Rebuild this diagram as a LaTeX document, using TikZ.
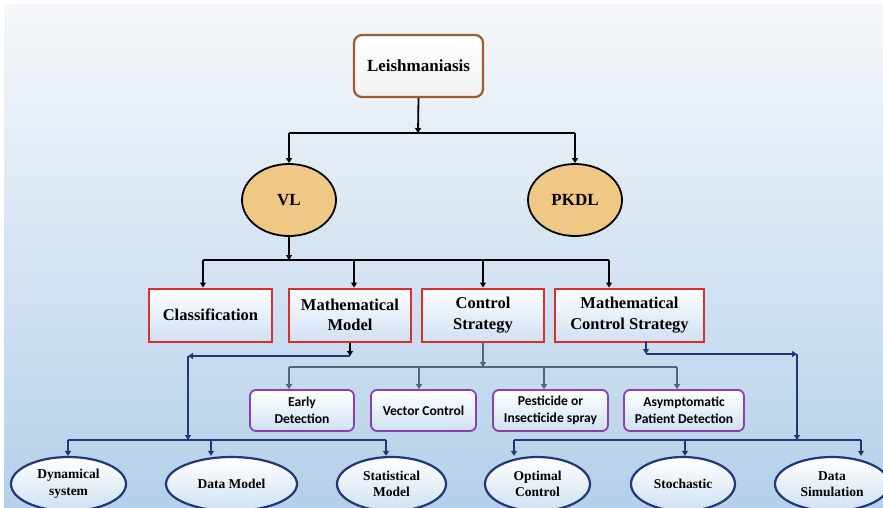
\documentclass[tikz,border=0pt]{standalone}
\usepackage{fontspec}
\setmainfont{Liberation Serif}
\newfontfamily\calib{Carlito}
\usetikzlibrary{shapes.geometric,arrows.meta}
\definecolor{bgtop}{HTML}{F6F8FB}
\definecolor{bgbot}{HTML}{B4D0E9}
\definecolor{brownb}{HTML}{A35A2C}
\definecolor{redb}{HTML}{D8302C}
\definecolor{purpb}{HTML}{8A40B0}
\definecolor{navy}{HTML}{22377A}
\definecolor{tanfill}{HTML}{EFC885}
\definecolor{greyb}{HTML}{56647A}
\definecolor{boxbot}{HTML}{CFE1F2}
\begin{document}
\begin{tikzpicture}[x=1pt,y=-1pt,
 topbox/.style={draw=brownb, line width=2.2pt, rounded corners=8pt, top color=white, bottom color=gray!10, minimum width=129pt, minimum height=62pt, inner sep=0pt, font=\fontsize{17}{20}\selectfont\bfseries},
 oval/.style={ellipse, draw=black, line width=1.8pt, fill=tanfill, minimum width=94pt, minimum height=72pt, inner sep=0pt, font=\fontsize{17}{20}\selectfont\bfseries},
 redbox/.style={draw=redb, line width=2pt, top color=white, bottom color=boxbot, minimum height=53pt, align=center, inner sep=0pt, font=\fontsize{16.5}{20.5}\selectfont\bfseries},
 purpbox/.style={draw=purpb, line width=1.8pt, rounded corners=6pt, top color=white, bottom color=boxbot, minimum height=41pt, align=center, inner sep=0pt, font=\calib\fontsize{13.6}{17}\selectfont\bfseries},
 bell/.style={ellipse, draw=navy, line width=2.2pt, top color=white, bottom color=boxbot, minimum height=54pt, align=center, inner sep=0pt, font=\fontsize{13.5}{16.5}\selectfont\bfseries},
 blk/.style={line width=1.8pt, black, -{Triangle[width=6pt,length=5pt]}},
 blkln/.style={line width=1.8pt, black},
 bluar/.style={line width=2.2pt, navy, -{Triangle[width=6pt,length=5pt]}},
 bluln/.style={line width=2.2pt, navy},
 greyar/.style={line width=1.8pt, greyb, -{Triangle[width=6pt,length=5pt]}},
 greyln/.style={line width=1.8pt, greyb}
]
\useasboundingbox (0,0) rectangle (883,507);
\fill[white] (0,0) rectangle (883,507);
\shade[top color=bgtop, bottom color=bgbot] (4,4) rectangle (883,507);

% nodes
\node[topbox] (L) at (418.5,66) {Leishmaniasis};
\node[oval] (VL) at (289,200) {VL};
\node[oval] (PK) at (575,200) {PKDL};

\node[redbox, minimum width=123pt] (Cl) at (210.5,315) {Classification};
\node[redbox, minimum width=122pt] (MM) at (350,315) {Mathematical\\Model};
\node[redbox, minimum width=122pt] (CS) at (483,315) {Control\\Strategy};
\node[redbox, minimum width=149pt] (MC) at (629.5,315) {Mathematical\\Control Strategy};

\node[purpbox, minimum width=104pt] (ED) at (302,410.5) {Early\\Detection};
\node[purpbox, minimum width=105pt] (VC) at (423.5,410.5) {Vector Control};
\node[purpbox, minimum width=115pt] (PI) at (550.5,410.5) {Pesticide or\\Insecticide spray};
\node[purpbox, minimum width=120pt] (AP) at (684,410.5) {Asymptomatic\\Patient Detection};

\node[bell, minimum width=115pt] (DS) at (68.5,484) {Dynamical\\system};
\node[bell, minimum width=131pt] (DM) at (231.5,484) {Data Model};
\node[bell, minimum width=109pt] (SM) at (391.5,484) {Statistical\\Model};
\node[bell, minimum width=105pt] (OC) at (537.5,484) {Optimal\\Control};
\node[bell, minimum width=104pt] (ST) at (683,484) {Stochastic};
\node[bell, minimum width=114pt] (DSim) at (832,484) {Data\\Simulation};

% top level connectors
\coordinate (j1) at (418,133);
\draw[blk] (L.south) -- (j1);
\draw[blkln] (VL.north |- j1) -- (PK.north |- j1);
\draw[blk] (VL.north |- j1) -- (VL.north);
\draw[blk] (PK.north |- j1) -- (PK.north);

% VL to red boxes
\coordinate (j2) at (289,260);
\coordinate (a1) at (203,260);
\coordinate (a2) at (354,260);
\coordinate (a3) at (483,260);
\coordinate (a4) at (609,260);
\draw[blk] (VL.south) -- (j2);
\draw[blkln] (a1) -- (a4);
\draw[blk] (a1) -- (a1 |- Cl.north);
\draw[blk] (a2) -- (a2 |- MM.north);
\draw[blk] (a3) -- (a3 |- CS.north);
\draw[blk] (a4) -- (a4 |- MC.north);

% Mathematical Model branch
\coordinate (m1) at (350,356);
\coordinate (m2) at (188,356);
\coordinate (m3) at (188,440);
\draw[blk] (MM.south) -- (m1);
\draw[bluar] (m1) -- (m2);
\draw[bluar] (m2) -- (m3);
\coordinate (b1) at (68,440);
\coordinate (b2) at (211,440);
\coordinate (b3) at (386,440);
\draw[bluln] (b1) -- (b3);
\draw[bluar] (b1) -- (b1 |- DS.north);
\draw[bluar] (b2) -- (b2 |- DM.north);
\draw[bluar] (b3) -- (b3 |- SM.north);

% Mathematical Control Strategy branch
\coordinate (n0) at (646,341);
\coordinate (n1) at (646,354);
\coordinate (n2) at (797,354);
\coordinate (n3) at (797,440);
\draw[bluar] (n0) -- (n1);
\draw[bluar] (n1) -- (n2);
\draw[bluar] (n2) -- (n3);
\coordinate (c1) at (514,440);
\coordinate (c2) at (685,440);
\coordinate (c3) at (861,440);
\draw[bluln] (c1) -- (c3);
\draw[bluar] (c1) -- (c1 |- OC.north);
\draw[bluar] (c2) -- (c2 |- ST.north);
\draw[bluar] (c3) -- (c3 |- DSim.north);

% Control Strategy branch
\coordinate (g0) at (483,367);
\coordinate (g1) at (289,367);
\coordinate (g2) at (419,367);
\coordinate (g3) at (544,367);
\coordinate (g4) at (677,367);
\draw[greyar] (CS.south) -- (g0);
\draw[greyln] (g1) -- (g4);
\draw[greyar] (g1) -- (g1 |- ED.north);
\draw[greyar] (g2) -- (g2 |- VC.north);
\draw[greyar] (g3) -- (g3 |- PI.north);
\draw[greyar] (g4) -- (g4 |- AP.north);
\end{tikzpicture}
\end{document}
